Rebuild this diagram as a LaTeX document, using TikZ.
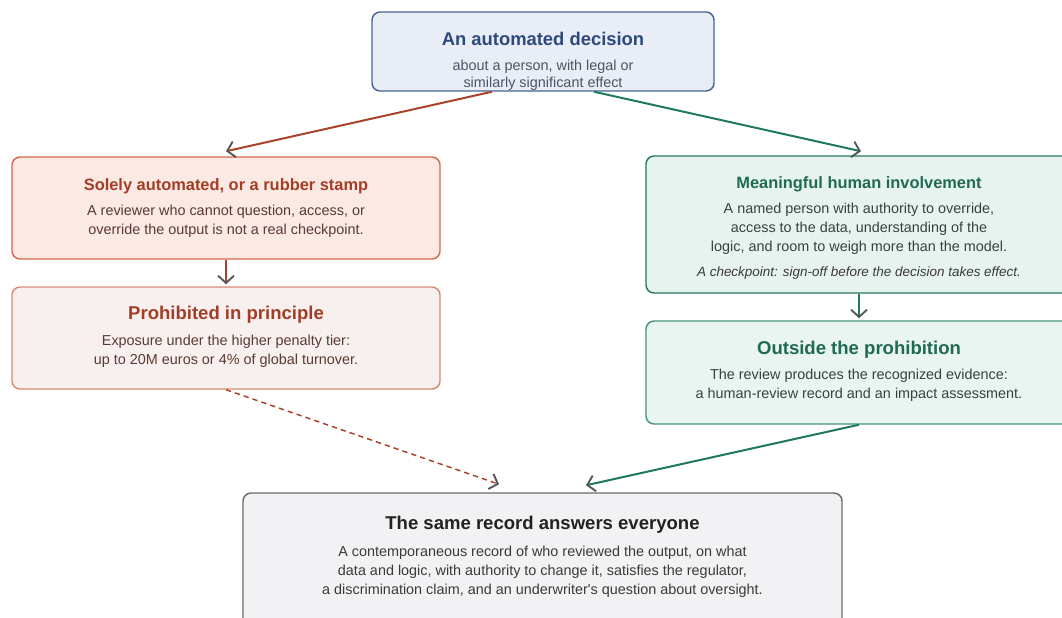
\documentclass[tikz,border=0pt]{standalone}
\usepackage{fontspec}
\setmainfont{Liberation Sans}
\usetikzlibrary{arrows.meta,calc,positioning}

\definecolor{topfill}{HTML}{E9EDF6}
\definecolor{topline}{HTML}{4A6596}
\definecolor{toptext}{HTML}{2D4A7C}
\definecolor{topbody}{HTML}{4A5568}
\definecolor{redfill}{HTML}{FBE9E3}
\definecolor{redfilltwo}{HTML}{F7F0EF}
\definecolor{redline}{HTML}{D4694D}
\definecolor{redlinetwo}{HTML}{D98A74}
\definecolor{redtext}{HTML}{A33D26}
\definecolor{redbody}{HTML}{5A3A32}
\definecolor{redarrow}{HTML}{A8432A}
\definecolor{grnfill}{HTML}{E7F3EE}
\definecolor{grnfilltwo}{HTML}{EAF4F0}
\definecolor{grnline}{HTML}{2A7A5C}
\definecolor{grnlinetwo}{HTML}{4A9478}
\definecolor{grntext}{HTML}{1F6B4F}
\definecolor{grnbody}{HTML}{34443E}
\definecolor{grnarrow}{HTML}{1F7A5A}
\definecolor{samefill}{HTML}{F2F2F4}
\definecolor{sameline}{HTML}{6B6B6B}
\definecolor{sametext}{HTML}{222222}
\definecolor{samebody}{HTML}{3A3A3A}
\definecolor{tipgray}{HTML}{555555}

\tikzset{
  box/.style={draw, rounded corners=6pt, line width=1.1pt, inner sep=0pt},
  bigtitle/.style={font=\bfseries\fontsize{13.9}{16}\selectfont, inner sep=0pt},
  smalltitle/.style={font=\bfseries\fontsize{12.3}{14}\selectfont, inner sep=0pt},
  body/.style={font=\fontsize{10.8}{14.25}\selectfont, align=center, inner sep=0pt},
  conn/.style={line width=1.5pt, -{Straight Barb[length=5.5pt,width=12pt,line width=1.4pt,color=tipgray]}},
}

\begin{document}
\begin{tikzpicture}[x=0.75pt,y=-0.75pt]
\useasboundingbox (0,0) rectangle (1062,617);

% boxes
\node[box, fill=topfill, draw=topline, minimum width=256.5pt, minimum height=59.25pt] (top) at (543,51.5) {};
\node[box, fill=redfill, draw=redline, minimum width=321pt, minimum height=76.5pt] (sol) at (226,208) {};
\node[box, fill=redfilltwo, draw=redlinetwo, minimum width=321pt, minimum height=76.5pt] (proh) at (226,338) {};
\node[box, fill=grnfill, draw=grnline, minimum width=319.5pt, minimum height=102.75pt] (mean) at (859,224.5) {};
\node[box, fill=grnfilltwo, draw=grnlinetwo, minimum width=319.5pt, minimum height=77.25pt] (outs) at (859,372.5) {};
\node[box, fill=samefill, draw=sameline, minimum width=449.25pt, minimum height=110.25pt] (same) at (542.5,566.5) {};

% texts
\node[bigtitle, text=toptext, font=\bfseries\fontsize{13.8}{16}\selectfont] (toptitle) at (543,39) {An automated decision};
\node[body, text=topbody, font=\fontsize{10.8}{12.75}\selectfont] (topsub) at (543,75.5) {about a person, with legal or\\similarly significant effect};

\node[smalltitle, text=redtext] (soltitle) at (226,186) {Solely automated, or a rubber stamp};
\node[body, text=redbody] (solsub) at (226,221) {A reviewer who cannot question, access, or\\override the output is not a real checkpoint.};

\node[bigtitle, text=redtext] (prohtitle) at (226,315) {Prohibited in principle};
\node[body, text=redbody] (prohsub) at (226,351) {Exposure under the higher penalty tier:\\up to 20M euros or 4\% of global turnover.};

\node[smalltitle, text=grntext] (meantitle) at (859,184) {Meaningful human involvement};
\node[body, text=grnbody] (meansub) at (859,229) {A named person with authority to override,\\access to the data, understanding of the\\logic, and room to weigh more than the model.};
\node[body, text=samebody, font=\itshape\fontsize{10.1}{12}\selectfont] (meannote) at (859,273) {A checkpoint: sign-off before the decision takes effect.};

\node[bigtitle, text=grntext] (outstitle) at (859,350) {Outside the prohibition};
\node[body, text=grnbody] (outssub) at (859,385.5) {The review produces the recognized evidence:\\a human-review record and an impact assessment.};

\node[bigtitle, text=sametext] (sametitle) at (542.5,525) {The same record answers everyone};
\node[body, text=samebody] (samesub) at (542.5,572) {A contemporaneous record of who reviewed the output, on what\\data and logic, with authority to change it, satisfies the regulator,\\a discrimination claim, and an underwriter\textquotesingle s question about oversight.};

% connectors
\draw[conn, redarrow] ($(top.south)+(-51,0)$) -- ($(sol.north)+(0,-5)$);
\draw[conn, grnarrow] ($(top.south)+(51,0)$) -- ($(mean.north)+(2,-4)$);
\draw[conn, redarrow] (sol.south) -- ($(proh.north)+(0,-2)$);
\draw[conn, grnarrow] (mean.south) -- ($(outs.north)+(0,-2)$);
\draw[conn, redarrow, line width=1.1pt, dash pattern=on 4pt off 3pt] (proh.south) -- ($(same.north)+(-43.5,-8)$);
\draw[conn, grnarrow] (outs.south) -- ($(same.north)+(43.5,-7)$);
\end{tikzpicture}
\end{document}
